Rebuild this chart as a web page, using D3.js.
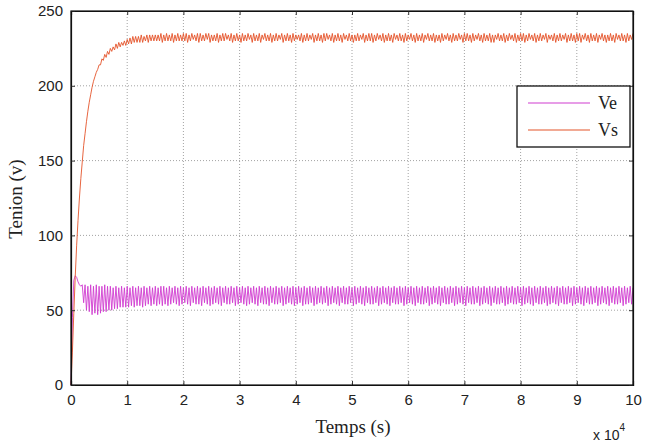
<!DOCTYPE html>
<html><head><meta charset="utf-8">
<script src="https://cdn.jsdelivr.net/npm/d3@7"></script>
<style>body{margin:0;background:#fff}svg{display:block}</style>
</head><body>
<svg id="c" width="646" height="448"></svg>
<script>
// time sample step in units of 10^4 s
const timeStep = 0.025;
const xTicks = [0,1,2,3,4,5,6,7,8,9,10];
const yTicks = [0,50,100,150,200,250];
const seriesNames = ["Ve","Vs"];
const seriesColors = ["#d03cd0","#e4542a"];

const veValues = [
 0,45,70,73,72,69,67,66,67,55,67,50,66,49,67,47,66,48,67,47,
 66,48,66,49,67,49,66,50,66,50,65,51,66,51,65,52,66,52,65,52,
 66,
 52,65,53,66,52,65,53,66,53,65,52,66,53,65,54,66,53,65,54,66,
 53,65,54,66,53,66,54,65,53,66,54,65,55,66,54,65,53,66,54,65,
 55,66,54,65,53,66,55,65,54,66,54,65,53,66,55,65,54,66,53,65,
 54,66,55,65,54,66,53,65,55,66,54,65,54,66,55,65,53,66,54,65,
 55,66,54,65,53,66,54,65,55,66,54,65,53,66,55,65,54,66,54,65,
 53,66,55,65,54,66,54,65,55,66,53,65,54,66,55,65,54,66,53,65,
 54,66,55,65,53,66,54,65,54,66,55,65,53,66,54,65,55,66,54,65,
 55,66,53,65,54,66,55,65,54,66,53,65,55,66,54,65,54,66,55,65,
 53,66,54,65,55,66,54,65,53,66,55,65,54,66,54,65,55,66,53,65,
 54,66,55,65,54,66,53,65,55,66,54,65,54,66,55,65,53,66,54,65,
 55,66,54,65,53,66,55,65,54,66,54,65,55,66,53,65,54,66,55,65,
 54,66,53,65,55,66,54,65,54,66,55,65,53,66,54,65,55,66,54,65,
 53,66,55,65,54,66,54,65,55,66,53,65,54,66,55,65,54,66,53,65,
 55,66,54,65,54,66,55,65,53,66,54,65,55,66,54,65,54,66,55,65,
 53,66,54,65,55,66,54,65,53,66,55,65,54,66,54,65,55,66,53,65,
 54,66,55,65,54,66,53,65,55,66,54,65,54,66,55,65,53,66,54,65,
 55,66,54,65,53,66,55,65,54,66,54,65,55,66,53,65,54,66,55,65,
 54,66,53,65,55,66,54,65,54,66,55,65,53,66,54,65,55,66,54,65
];
const vsValues = [
 0,22,48,72,93,110,125,138,149,160,168,176,183,189,194,199,203,206,209,211,
 214,214,218,217,221,219,223,221,225,223,226,224,228,225,229,226,229,227,230,227,
 231,
 228,232,228,233,229,233,229,233,229,234,229,233,230,234,229,234,230,234,230,234,
 230,234,230,235,229,234,230,235,230,234,230,235,229,234,230,235,230,234,230,235,
 230,235,229,234,230,235,231,234,230,235,229,235,230,234,230,235,231,235,229,234,
 230,234,230,235,229,234,230,235,230,235,231,234,230,235,229,234,230,235,230,234,
 229,235,230,234,230,235,231,234,229,235,230,234,230,235,229,234,231,235,230,234,
 230,235,229,234,230,235,230,234,231,235,229,234,230,235,230,234,229,235,230,234,
 231,234,230,235,229,234,230,235,230,234,231,235,229,234,230,235,230,234,229,235,
 230,235,231,234,230,235,229,234,230,235,230,234,229,235,231,234,230,235,230,234,
 229,234,230,235,230,234,231,235,229,234,230,235,230,235,229,234,230,235,231,234,
 230,235,229,234,230,235,230,234,229,235,231,234,230,235,230,234,229,235,230,234,
 231,235,230,234,229,235,230,234,230,235,229,234,231,235,230,234,230,235,229,234,
 230,234,229,235,230,234,231,235,230,234,229,235,230,234,230,235,231,234,229,235,
 230,235,230,234,229,235,230,234,231,235,230,234,229,235,230,234,230,235,229,234,
 229,234,231,235,230,234,230,235,229,234,230,235,231,234,230,235,229,234,230,235,
 230,235,229,234,230,235,231,234,230,235,229,234,230,235,230,234,231,235,229,234,
 231,234,230,235,229,234,230,235,230,234,231,235,229,234,230,235,230,234,229,235,
 230,235,229,234,231,235,230,234,229,235,230,234,230,235,229,234,231,235,230,234,
 229,234,230,235,230,234,229,235,231,234,230,235,230,234,229,235,230,234,231,235
];

const svg = d3.select("#c");
const L = 71, R = 633, T = 11, B = 385;
const x = d3.scaleLinear().domain([0,10]).range([L,R]);
const y = d3.scaleLinear().domain([0,250]).range([B,T]);

// grid
const grid = svg.append("g").attr("stroke","#8a8a8a").attr("stroke-width",0.8).attr("stroke-dasharray","1,2");
grid.selectAll(".gx").data(xTicks.slice(1,-1)).join("line")
  .attr("x1",d=>x(d)).attr("x2",d=>x(d)).attr("y1",T).attr("y2",B);
grid.selectAll(".gy").data(yTicks.slice(1,-1)).join("line")
  .attr("y1",d=>y(d)).attr("y2",d=>y(d)).attr("x1",L).attr("x2",R);

// data lines
const series = [veValues, vsValues];
const line = d3.line().x((d,i)=>x(i*timeStep)).y(d=>y(d));
series.forEach((vals,k)=>{
  svg.append("path").datum(vals).attr("d",line)
    .attr("fill","none").attr("stroke",seriesColors[k]).attr("stroke-width",0.9)
    .attr("stroke-linejoin","round");
});

// axes
const fontSans = "'Liberation Sans', Arial, sans-serif";
const fontSerif = "'Liberation Serif', 'Times New Roman', serif";
const xAxis = svg.append("g").attr("transform",`translate(0,${B})`)
  .call(d3.axisBottom(x).tickValues(xTicks).tickSize(-4).tickPadding(9).tickFormat(d3.format("d")));
const xAxisTop = svg.append("g").attr("transform",`translate(0,${T})`)
  .call(d3.axisTop(x).tickValues(xTicks).tickSize(-4).tickFormat(""));
const yAxis = svg.append("g").attr("transform",`translate(${L},0)`)
  .call(d3.axisLeft(y).tickValues(yTicks).tickSize(-4).tickPadding(8));
const yAxisR = svg.append("g").attr("transform",`translate(${R},0)`)
  .call(d3.axisRight(y).tickValues(yTicks).tickSize(-4).tickFormat(""));
[xAxis,xAxisTop,yAxis,yAxisR].forEach(g=>{
  g.select(".domain").attr("stroke","#111").attr("stroke-width",1.2);
  g.selectAll(".tick line").attr("stroke","#333");
  g.selectAll("text").attr("font-family",fontSans).attr("font-size",15).attr("fill","#222");
});
// frame
svg.append("rect").attr("x",L).attr("y",T).attr("width",R-L).attr("height",B-T)
  .attr("fill","none").attr("stroke","#111").attr("stroke-width",1.2);

// axis titles
svg.append("text").attr("x",(L+R)/2+1).attr("y",433).attr("text-anchor","middle")
  .attr("font-family",fontSerif).attr("font-size",19).attr("fill","#222").text("Temps (s)");
svg.append("text").attr("transform","translate(22,199) rotate(-90)").attr("text-anchor","middle")
  .attr("font-family",fontSerif).attr("font-size",19).attr("fill","#222").text("Tenion (v)");
const ex = svg.append("text").attr("x",593).attr("y",440)
  .attr("font-family",fontSans).attr("font-size",14).attr("fill","#222");
ex.append("tspan").text("x 10");
ex.append("tspan").attr("dy",-9).attr("font-size",10).text("4");

// legend
const lg = svg.append("g");
lg.append("rect").attr("x",517).attr("y",86).attr("width",113).attr("height",61)
  .attr("fill","#fff").attr("stroke","#111").attr("stroke-width",1.3);
seriesNames.forEach((n,k)=>{
  const yy = 103 + k*27;
  lg.append("line").attr("x1",528).attr("x2",590).attr("y1",yy).attr("y2",yy)
    .attr("stroke",seriesColors[k]).attr("stroke-width",1.2);
  lg.append("text").attr("x",598).attr("y",yy+6).attr("font-family",fontSerif)
    .attr("font-size",18).attr("fill","#222").text(n);
});
</script>
</body></html>
